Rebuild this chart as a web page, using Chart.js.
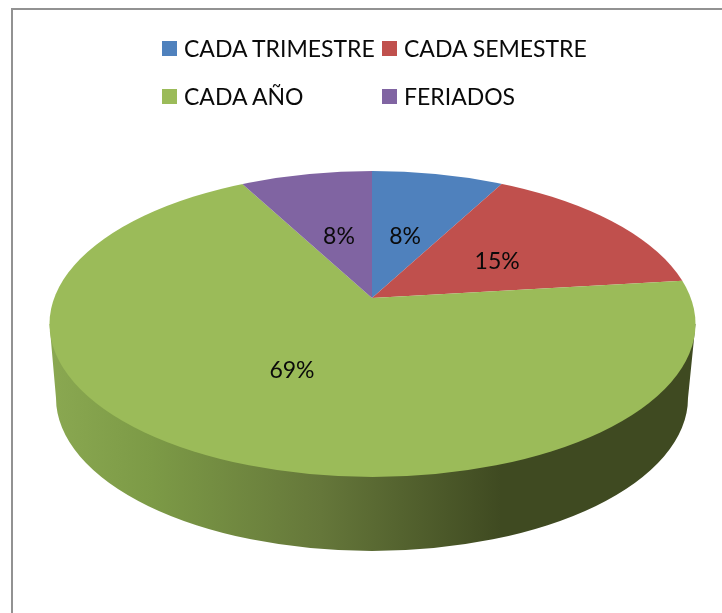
<!DOCTYPE html>
<html>
<head>
<meta charset="utf-8">
<style>
  body { margin: 0; background: #fff; width: 722px; height: 613px; overflow: hidden; position: relative; font-family: Lato, sans-serif; }
  #frame { position: absolute; left: 11px; top: 8px; width: 720px; height: 620px; border-left: 2px solid #929292; border-top: 2px solid #929292; }
  canvas { position: absolute; left: 0; top: 0; }
  .key { position: absolute; font-size: 23px; line-height: 30px; color: #0a0a0a; white-space: nowrap; padding-left: 22px; }
  .key i { position: absolute; left: 0; top: 8px; width: 15px; height: 15px; }
</style>
</head>
<body>
<div id="frame"></div>
<canvas id="pie" width="722" height="613"></canvas>
<script src="https://cdn.jsdelivr.net/npm/chart.js@4"></script>
<script>
const categories = ["CADA TRIMESTRE", "CADA SEMESTRE", "CADA AÑO", "FERIADOS"];
const shares = [7.7, 15.4, 69.2, 7.7];
const sliceColors = ["#4f81bd", "#c0504d", "#9bbb59", "#8064a2"];

// legend grid, two columns
const legendX = [162, 382];
const legendY = [33, 81];

// the pie top is an ellipse, the apex sits above its centre (perspective)
const top3d = { x: 372.5, y: 324, rx: 323, ry: 153 };
const base3d = { x: 372, y: 398, rx: 316, ry: 153 };
const apex = { x: 372, y: 298 };
const squash = 0.462;
const labelDist = [138, 152, 172, 138];
const labelNudgeY = [0, 3, 2, 0];

categories.forEach((name, i) => {
  const el = document.createElement("div");
  el.className = "key";
  el.style.left = legendX[i % 2] + "px";
  el.style.top = legendY[Math.floor(i / 2)] + "px";
  el.innerHTML = `<i style="background:${sliceColors[i]}"></i>${name}`;
  document.body.appendChild(el);
});

const pie3d = {
  id: "pie3d",
  beforeDatasetsDraw(chart) {
    const ctx = chart.ctx;
    const arc = chart.getDatasetMeta(0).data[0];

    // side wall
    const wall = ctx.createLinearGradient(top3d.x - top3d.rx, 0, top3d.x + top3d.rx, 0);
    wall.addColorStop(0, "#8aa851");
    wall.addColorStop(0.16, "#7c9a46");
    wall.addColorStop(0.42, "#65773a");
    wall.addColorStop(0.7, "#3f4a21");
    wall.addColorStop(1, "#3f4a21");
    ctx.beginPath();
    ctx.moveTo(top3d.x - top3d.rx, top3d.y);
    ctx.lineTo(base3d.x - base3d.rx, base3d.y);
    ctx.ellipse(base3d.x, base3d.y, base3d.rx, base3d.ry, 0, Math.PI, 0, true);
    ctx.lineTo(top3d.x + top3d.rx, top3d.y);
    ctx.closePath();
    ctx.fillStyle = wall;
    ctx.fill();

    // slices are drawn by chart.js, squashed and cut to the top ellipse
    ctx.save();
    ctx.beginPath();
    ctx.ellipse(top3d.x, top3d.y, top3d.rx, top3d.ry, 0, 0, Math.PI * 2);
    ctx.clip();
    ctx.translate(apex.x, apex.y);
    ctx.scale(1, squash);
    ctx.translate(-arc.x, -arc.y);
  },
  afterDatasetsDraw(chart) {
    const ctx = chart.ctx;
    ctx.restore();

    const total = shares.reduce((a, b) => a + b, 0);
    ctx.font = "23px Lato, sans-serif";
    ctx.fillStyle = "#0a0a0a";
    ctx.textAlign = "center";
    ctx.textBaseline = "middle";
    chart.getDatasetMeta(0).data.forEach((arc, i) => {
      const mid = (arc.startAngle + arc.endAngle) / 2;
      const x = apex.x + Math.cos(mid) * labelDist[i];
      const y = apex.y + Math.sin(mid) * labelDist[i] * squash + labelNudgeY[i];
      ctx.fillText(Math.round(shares[i] / total * 100) + "%", x, y);
    });
  },
};

new Chart(document.getElementById("pie"), {
  type: "pie",
  data: {
    labels: categories,
    datasets: [{
      data: shares,
      backgroundColor: sliceColors,
      borderWidth: 0,
      clip: false,
    }],
  },
  options: {
    responsive: false,
    animation: false,
    radius: 420,
    plugins: {
      legend: { display: false },
      tooltip: { enabled: false },
    },
  },
  plugins: [pie3d],
});
</script>
</body>
</html>
